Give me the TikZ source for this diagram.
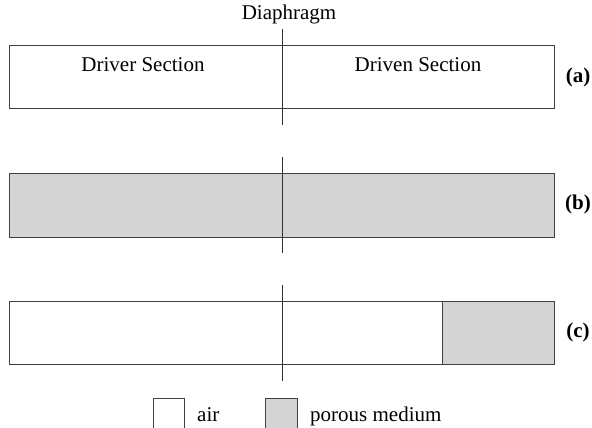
\documentclass[tikz,border=0pt]{standalone}
\usepackage{fontspec}
\setmainfont{Liberation Serif}
\begin{document}
\begin{tikzpicture}[x=1pt,y=-1pt,
  tube/.style={draw=black!75, line width=0.9pt},
  porous/.style={fill=black!17},
  diaph/.style={draw=black!80, line width=0.9pt},
  lbl/.style={font=\fontsize{21}{25}\selectfont, inner sep=0pt},
  tag/.style={font=\fontsize{21}{25}\selectfont\bfseries, inner sep=0pt}]
\useasboundingbox (0,0) rectangle (592,428);
\clip (0,0) rectangle (592,428);
\fill[white] (0,0) rectangle (592,428);
% (a)
\draw[tube] (9,45) rectangle (554,108);
\node[lbl] (dia) at (289,14) {Diaphragm};
\coordinate (a1) at (282,29);
\coordinate (a2) at (282,125);
\draw[diaph] (a1) -- (a2);
\node[lbl] (drv) at (143,65) {Driver Section};
\node[lbl] (dvn) at (418,65) {Driven Section};
\node[tag] (ta) at (578,77) {(a)};
% (b)
\draw[tube,porous] (9,173) rectangle (554,237);
\coordinate (b1) at (282,157);
\coordinate (b2) at (282,253);
\draw[diaph] (b1) -- (b2);
\node[tag] (tb) at (578,204) {(b)};
% (c)
\fill[porous] (442,301) rectangle (554,364);
\draw[tube] (9,301) rectangle (554,364);
\draw[tube] (442,301) -- (442,364);
\coordinate (c1) at (282,285);
\coordinate (c2) at (282,381);
\draw[diaph] (c1) -- (c2);
\node[tag] (tc) at (578,332) {(c)};
% legend
\draw[tube] (153,398) rectangle (184,432);
\node[lbl,anchor=base west] (air) at (197,421) {air};
\draw[tube,porous] (265,398) rectangle (297,432);
\node[lbl,anchor=base west] (pm) at (310,421) {porous medium};
\end{tikzpicture}
\end{document}
